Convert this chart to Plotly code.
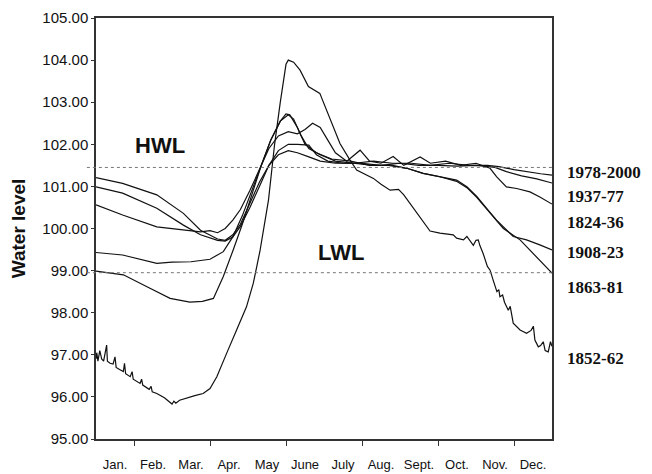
import plotly.graph_objects as go

# x positions are in months from 1 Jan (0 = start of Jan, 12 = end of Dec)
month_labels = ["Jan.", "Feb.", "Mar.", "Apr.", "May", "June", "July", "Aug.", "Sept.", "Oct.", "Nov.", "Dec."]
month_mid = [i + 0.5 for i in range(12)]
tick_marks = [1, 3, 5, 7, 9, 11]

HWL = 101.45
LWL = 98.95

x_1978 = [0.0, 0.7, 1.6, 2.3, 2.75, 3.2, 3.4, 3.6, 3.8, 4.05, 4.3, 4.55, 4.8, 5.06, 5.3, 5.6, 5.9, 6.3, 6.8, 7.3, 7.8, 8.3, 8.8, 9.3, 9.8, 10.3, 10.6, 11.0, 11.3, 11.7, 12.0]
y_1978 = [101.21, 101.07, 100.80, 100.36, 99.96, 99.75, 99.72, 99.85, 100.1, 100.6, 101.1, 101.5, 101.75, 101.85, 101.8, 101.7, 101.6, 101.55, 101.55, 101.6, 101.55, 101.55, 101.5, 101.55, 101.5, 101.5, 101.47, 101.4, 101.35, 101.3, 101.27]

x_1937 = [0.0, 0.7, 1.6, 2.3, 2.75, 3.2, 3.4, 3.6, 3.8, 4.05, 4.3, 4.55, 4.8, 5.06, 5.3, 5.6, 5.8, 6.1, 6.5, 7.0, 7.5, 8.0, 8.5, 9.0, 9.5, 10.0, 10.5, 10.8, 11.2, 11.6, 12.0]
y_1937 = [100.99, 100.84, 100.48, 100.08, 99.85, 99.72, 99.70, 99.8, 100.05, 100.5, 101.0, 101.5, 101.85, 102.0, 102.0, 101.98, 101.75, 101.6, 101.55, 101.55, 101.5, 101.55, 101.5, 101.5, 101.48, 101.5, 101.45, 101.35, 101.25, 101.18, 101.08]

x_1824 = [0.0, 0.7, 1.6, 2.3, 2.75, 3.0, 3.2, 3.4, 3.6, 3.8, 4.05, 4.3, 4.55, 4.8, 5.06, 5.3, 5.5, 5.7, 5.9, 6.1, 6.3, 6.6, 6.95, 7.2, 7.5, 7.82, 8.1, 8.53, 8.8, 9.2, 9.6, 10.0, 10.37, 10.54, 10.8, 11.07, 11.42, 11.68, 12.0]
y_1824 = [100.56, 100.32, 100.04, 99.96, 99.92, 99.95, 99.9, 100.0, 100.2, 100.45, 100.9, 101.4, 101.9, 102.2, 102.3, 102.25, 102.35, 102.5, 102.4, 102.1, 101.8, 101.6, 101.86, 101.6, 101.55, 101.71, 101.5, 101.7, 101.55, 101.6, 101.5, 101.55, 101.43, 101.23, 100.99, 100.95, 100.87, 100.75, 100.58]

x_1908 = [0.0, 0.7, 1.6, 2.0, 2.5, 3.0, 3.35, 3.6, 3.85, 4.1, 4.35, 4.6, 4.85, 5.06, 5.2, 5.4, 5.6, 5.9, 6.3, 6.8, 7.3, 7.8, 8.18, 8.61, 9.05, 9.49, 9.76, 10.02, 10.28, 10.54, 10.98, 11.33, 11.68, 12.0]
y_1908 = [99.43, 99.37, 99.17, 99.2, 99.21, 99.27, 99.45, 99.8, 100.3, 100.9, 101.5, 102.1, 102.55, 102.7, 102.6, 102.2, 101.9, 101.75, 101.6, 101.55, 101.5, 101.5, 101.43, 101.31, 101.23, 101.15, 100.99, 100.76, 100.48, 100.20, 99.81, 99.73, 99.61, 99.49]

x_1863 = [0.0, 0.72, 1.42, 1.95, 2.47, 2.8, 3.09, 3.35, 3.61, 3.85, 4.1, 4.35, 4.6, 4.85, 5.0, 5.1, 5.3, 5.5, 5.8, 6.2, 6.7, 7.2, 7.7, 8.18, 8.61, 9.05, 9.49, 9.76, 10.02, 10.28, 10.54, 10.72, 11.16, 11.51, 12.0]
y_1863 = [98.99, 98.9, 98.58, 98.34, 98.25, 98.27, 98.34, 98.86, 99.49, 100.1, 100.8, 101.5, 102.1, 102.55, 102.72, 102.7, 102.4, 102.0, 101.8, 101.65, 101.6, 101.5, 101.5, 101.43, 101.31, 101.23, 101.12, 100.97, 100.74, 100.46, 100.18, 100.0, 99.73, 99.41, 98.94]

x_1852 = [0.0, 0.02, 0.05, 0.1, 0.15, 0.2, 0.28, 0.3, 0.37, 0.45, 0.5, 0.53, 0.62, 0.72, 0.75, 0.78, 0.9, 0.95, 0.98, 1.16, 1.2, 1.23, 1.4, 1.45, 1.48, 1.6, 1.8, 1.9, 1.95, 2.0, 2.05, 2.1, 2.2, 2.3, 2.47, 2.6, 2.82, 3.0, 3.18, 3.3, 3.44, 3.7, 3.96, 4.14, 4.32, 4.54, 4.7, 4.85, 5.0, 5.06, 5.2, 5.37, 5.59, 5.89, 6.16, 6.42, 6.68, 6.86, 7.3, 7.5, 7.74, 7.96, 8.1, 8.26, 8.53, 8.79, 9.05, 9.4, 9.49, 9.67, 9.76, 9.93, 10.0, 10.06, 10.1, 10.19, 10.3, 10.37, 10.46, 10.55, 10.6, 10.63, 10.7, 10.75, 10.85, 10.9, 10.98, 11.16, 11.33, 11.45, 11.51, 11.55, 11.64, 11.7, 11.77, 11.82, 11.9, 11.96, 12.0]
y_1852 = [96.9, 97.05, 96.85, 97.1, 96.9, 96.85, 97.23, 96.85, 96.80, 96.78, 96.95, 96.7, 96.65, 96.6, 96.8, 96.55, 96.48, 96.6, 96.42, 96.32, 96.42, 96.28, 96.18, 96.25, 96.12, 96.08, 95.98, 95.9, 95.87, 95.83, 95.9, 95.85, 95.92, 95.95, 96.0, 96.03, 96.08, 96.2, 96.48, 96.75, 97.04, 97.59, 98.14, 98.70, 99.49, 100.68, 102.0, 103.0, 103.9, 104.0, 103.95, 103.76, 103.37, 103.21, 102.58, 102.02, 101.63, 101.39, 101.19, 101.05, 100.91, 100.93, 100.8, 100.60, 100.26, 99.94, 99.89, 99.85, 99.77, 99.73, 99.81, 99.6, 99.72, 99.73, 99.6, 99.4, 99.1, 99.01, 98.75, 98.5, 98.55, 98.38, 98.42, 98.25, 98.06, 98.15, 97.75, 97.59, 97.51, 97.58, 97.68, 97.35, 97.19, 97.22, 97.31, 97.1, 97.07, 97.31, 97.2]

series = [
  ("1978-2000", x_1978, y_1978, 101.33),
  ("1937-77", x_1937, y_1937, 100.77),
  ("1824-36", x_1824, y_1824, 100.15),
  ("1908-23", x_1908, y_1908, 99.42),
  ("1863-81", x_1863, y_1863, 98.59),
  ("1852-62", x_1852, y_1852, 96.92),
]

fig = go.Figure()

# HWL / LWL reference lines
for level in [HWL, LWL]:
  fig.add_shape(type="line", xref="paper", yref="y", x0=-0.02, x1=1.0, y0=level, y1=level,
                line=dict(color="#777", width=1, dash="dot"))

for name, xs, ys, label_y in series:
  fig.add_trace(go.Scatter(x=xs, y=ys, mode="lines", name=name,
                           line=dict(color="#111", width=1.2), showlegend=False))
  fig.add_annotation(x=1.028, xref="paper", y=label_y, yref="y", text="<b>" + name + "</b>",
                     showarrow=False, xanchor="left", yanchor="middle",
                     font=dict(family="Liberation Serif", size=17, color="#111"))

fig.add_annotation(x=1.68, y=101.96, text="<b>HWL</b>", showarrow=False,
                   font=dict(family="Liberation Sans", size=22, color="#111"))
fig.add_annotation(x=6.45, y=99.42, text="<b>LWL</b>", showarrow=False,
                   font=dict(family="Liberation Sans", size=22, color="#111"))

# the page body adds an 8px offset, so margins are shifted to compensate
fig.update_layout(
  width=652, height=474,
  margin=dict(l=88, r=108, t=10, b=43),
  plot_bgcolor="white", paper_bgcolor="white",
  font=dict(family="Liberation Sans", color="#111"),
)
fig.update_xaxes(
  range=[0, 12], tickvals=month_mid, ticktext=month_labels, ticks="",
  tickfont=dict(size=13), ticklabelstandoff=13, automargin=False,
  minor=dict(tickmode="array", tickvals=tick_marks, ticks="outside", ticklen=5, tickcolor="#333"),
  showline=True, linecolor="#333", linewidth=1.5, mirror=True, showgrid=False, zeroline=False,
)
fig.update_yaxes(
  range=[95, 105], dtick=1, tickformat=".2f", ticks="outside", ticklen=3, tickcolor="#333",
  tickfont=dict(size=15), automargin=False,
  title=dict(text="<b>Water level</b>", font=dict(size=19), standoff=22),
  showline=True, linecolor="#333", linewidth=1.5, mirror=True, showgrid=False, zeroline=False,
)

fig.write_html("out.html")
